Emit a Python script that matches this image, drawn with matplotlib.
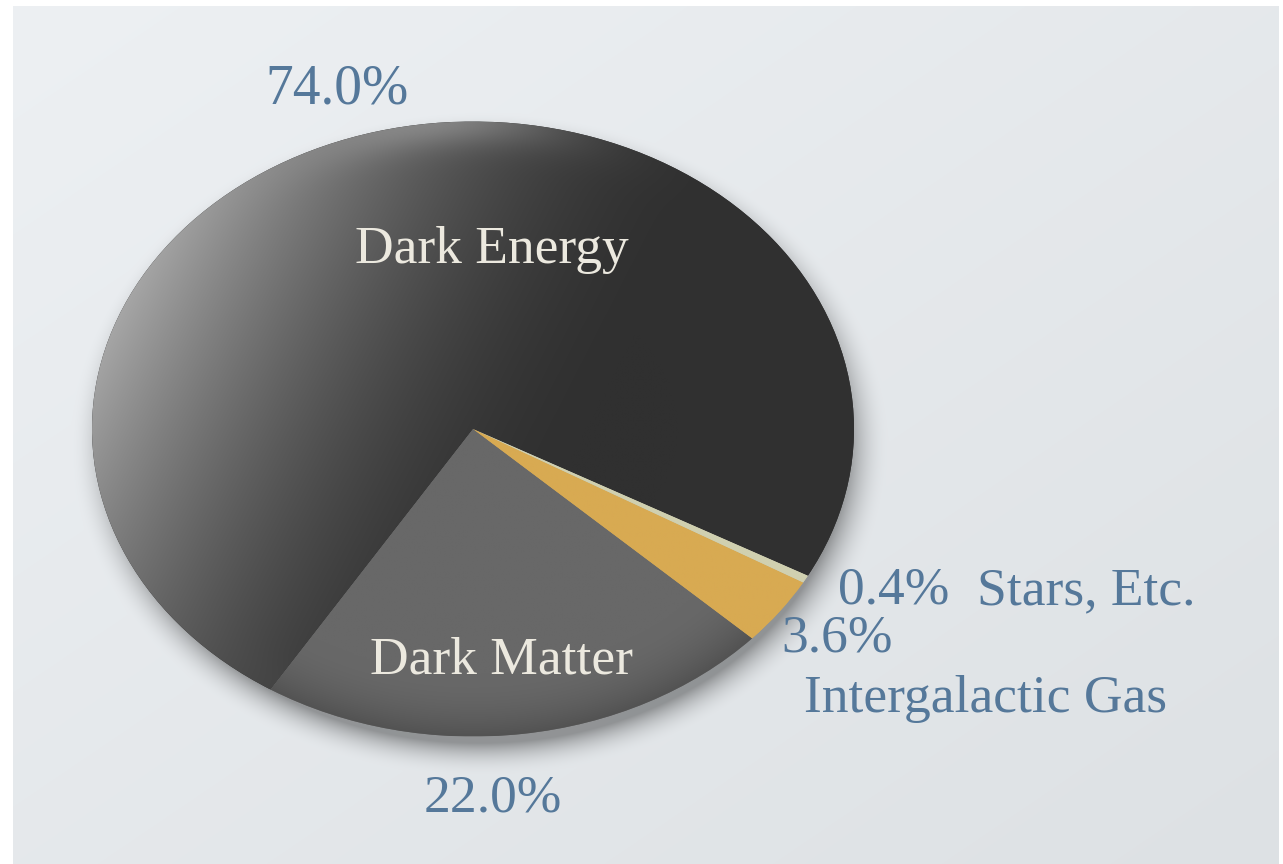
import numpy as np
import matplotlib
matplotlib.use("Agg")
import matplotlib.pyplot as plt
from matplotlib.colors import to_rgb

labels = ["Dark Energy", "Dark Matter", "Intergalactic Gas", "Stars, Etc."]
values = [74.0, 22.0, 3.6, 0.4]
percent_labels = ["74.0%", "22.0%", "3.6%", "0.4%"]

W, H = 1283, 864
CX, CY, RX, RY = 473.0, 429.0, 381.0, 307.5
plt.rcParams["font.family"] = ["Liberation Serif", "DejaVu Serif"]

fig = plt.figure(figsize=(W / 100, H / 100), dpi=100, facecolor="white")

# background panel with soft shadow under the pie
bg = fig.add_axes([0, 0, 1, 1])
px, py = np.meshgrid(np.arange(W) + .5, np.arange(H) + .5)
t = (px / W * 0.5 + py / H * 0.5)
c0, c1 = np.array(to_rgb("#edf0f3")), np.array(to_rgb("#dde1e4"))
img = c0[None, None, :] * (1 - t[..., None]) + c1[None, None, :] * t[..., None]
d = np.hypot((px - CX) / RX, (py - (CY + 12)) / RY)
shadow = np.clip((1.09 - d) / 0.11, 0, 1) ** 2 * 0.36
img = img * (1 - shadow[..., None])
rgba = np.dstack([img, np.ones_like(t)])
bg.imshow(rgba, extent=(13, 1279, 864, 6), aspect="auto", zorder=0, interpolation="bilinear")
bg.set_xlim(0, W)
bg.set_ylim(H, 0)
bg.axis("off")

# pie, stretched to an ellipse
ax = fig.add_axes([(CX - RX) / W, 1 - (CY + RY) / H, 2 * RX / W, 2 * RY / H])
wedges, _ = ax.pie(values, startangle=-28.5, counterclock=True, radius=1.0,
                   colors=["#2e2e2e", "#686868", "#d4a650", "#d0d0b0"],
                   wedgeprops=dict(linewidth=0))
ax.set_aspect("auto")
ax.patch.set_alpha(0)

# shading inside each wedge
gx, gy = np.meshgrid(np.linspace(-1, 1, 600), np.linspace(-1, 1, 600))
r = np.hypot(gx, gy)
direction = np.clip((-0.85 * gx + 0.35 * gy + 0.25) / 1.25, 0, 1)
light = 0.52 * direction ** 1.8
light = light + 0.16 * np.exp(-((gx + 0.05) / 0.3) ** 2 - ((r - 1) / 0.08) ** 2)
bottom = np.clip((r - 0.8) / 0.2, 0, 1) ** 2

energy = np.array(to_rgb("#303030"))[None, None, :] + light[..., None]
matter = np.array(to_rgb("#686868"))[None, None, :] * (1 - 0.2 * bottom[..., None])
gas = np.array(to_rgb("#d8aa52"))[None, None, :] * np.ones((600, 600, 1))
stars = np.array(to_rgb("#d0d0b0"))[None, None, :] * np.ones((600, 600, 1))
for w, col in zip(wedges, [energy, matter, gas, stars]):
    im = ax.imshow(np.clip(col, 0, 1), extent=(-1, 1, -1, 1), origin="lower",
                   aspect="auto", zorder=2, interpolation="bilinear")
    im.set_clip_path(w)
ax.set_xlim(-1, 1)
ax.set_ylim(-1, 1)

# labels in pixel coordinates of the overlay axes
over = fig.add_axes([0, 0, 1, 1])
over.set_xlim(0, W)
over.set_ylim(H, 0)
over.axis("off")
over.patch.set_alpha(0)
blue = "#55789a"
cream = "#ece9df"
fs = 38.5
over.text(492, 250, labels[0], color=cream, fontsize=fs, ha="center", va="center")
over.text(502, 661, labels[1], color=cream, fontsize=fs, ha="center", va="center")
over.text(337, 89, percent_labels[0], color=blue, fontsize=40, ha="center", va="center")
over.text(493, 799, percent_labels[1], color=blue, fontsize=fs, ha="center", va="center")
over.text(837, 638, percent_labels[2], color=blue, fontsize=fs, ha="center", va="center")
over.text(894, 590, percent_labels[3], color=blue, fontsize=fs, ha="center", va="center")
over.text(1086, 591, labels[3], color=blue, fontsize=fs, ha="center", va="center")
over.text(985, 699, labels[2], color=blue, fontsize=fs, ha="center", va="center")

fig.savefig("out.png", dpi=100)
